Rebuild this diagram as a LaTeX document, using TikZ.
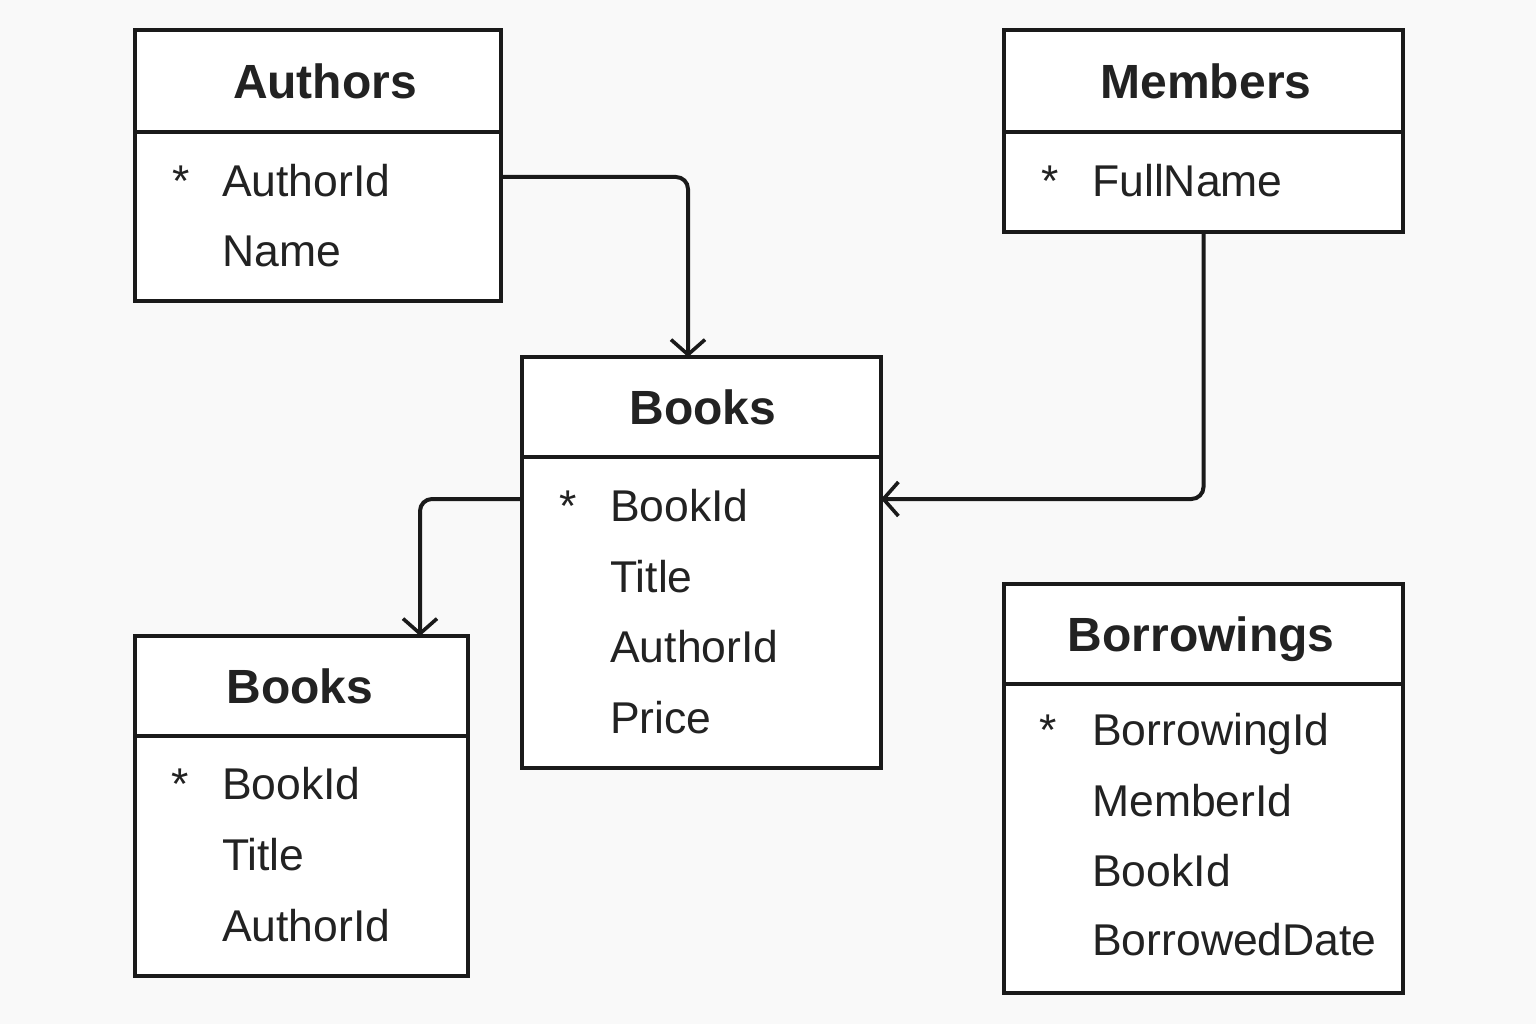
\documentclass[tikz,border=0pt]{standalone}
\usepackage{fontspec}
\setmainfont{Liberation Sans}
\usetikzlibrary{arrows.meta,calc}
\definecolor{ink}{HTML}{1A1A1A}
\definecolor{txt}{HTML}{222222}
\definecolor{bg}{HTML}{F9F9F9}
\begin{document}
\begin{tikzpicture}[x=1pt,y=-1pt,
  box/.style={draw=ink, line width=3.2pt, fill=white, anchor=north west, inner sep=0pt, outer sep=0pt},
  title/.style={font=\fontsize{48}{48}\selectfont\bfseries, text=txt, anchor=base, inner sep=0pt},
  field/.style={font=\fontsize{44.5}{44.5}\selectfont, text=txt, anchor=base west, inner sep=0pt},
  keymark/.style={font=\fontsize{44.5}{44.5}\selectfont, text=txt, anchor=base, inner sep=0pt},
  link/.style={draw=ink, line width=4pt, rounded corners=12pt, -{Straight Barb[length=15pt,width=34pt,line width=3.6pt]}}]
\fill[bg] (0,0) rectangle (1536,1024);
\useasboundingbox (0,0) rectangle (1536,1024);

% Authors
\node[box, minimum width=366pt, minimum height=102pt] (authH) at (135,30) {};
\node[box, minimum width=366pt, minimum height=169pt] (authB) at (135,132) {};
\node[title] (authT) at (325,99) {Authors};
\node[keymark] (authK) at (181,197) {*};
\node[field] (authF1) at (222,197) {AuthorId};
\node[field] (authF2) at (222,267) {Name};

% Members
\node[box, minimum width=399pt, minimum height=102pt] (memH) at (1004,30) {};
\node[box, minimum width=399pt, minimum height=100pt] (memB) at (1004,132) {};
\node[title] (memT) at (1206,99) {Members};
\node[keymark] (memK) at (1050,197) {*};
\node[field] (memF1) at (1092,197) {FullName};

% Books (middle)
\node[box, minimum width=359pt, minimum height=100pt] (bkH) at (522,357) {};
\node[box, minimum width=359pt, minimum height=311pt] (bkB) at (522,457) {};
\node[title] (bkT) at (703,424) {Books};
\node[keymark] (bkK) at (568,521) {*};
\node[field] (bkF1) at (610,521) {BookId};
\node[field] (bkF2) at (610,592) {Title};
\node[field] (bkF3) at (610,662) {AuthorId};
\node[field] (bkF4) at (610,733) {Price};

% Books (left)
\node[box, minimum width=333pt, minimum height=100pt] (bk2H) at (135,636) {};
\node[box, minimum width=333pt, minimum height=240pt] (bk2B) at (135,736) {};
\node[title] (bk2T) at (300,703) {Books};
\node[keymark] (bk2K) at (180,799) {*};
\node[field] (bk2F1) at (222,799) {BookId};
\node[field] (bk2F2) at (222,870) {Title};
\node[field] (bk2F3) at (222,941) {AuthorId};

% Borrowings
\node[box, minimum width=399pt, minimum height=100pt] (borH) at (1004,584) {};
\node[box, minimum width=399pt, minimum height=309pt] (borB) at (1004,684) {};
\node[title] (borT) at (1201,651) {Borrowings};
\node[keymark] (borK) at (1048,745) {*};
\node[field] (borF1) at (1092,745) {BorrowingId};
\node[field] (borF2) at (1092,816) {MemberId};
\node[field] (borF3) at (1092,886) {BookId};
\node[field] (borF4) at (1092,955) {BorrowedDate};

% Connectors
\draw[link] (authB.east |- 0,177) -| ($(bkH.north west)+(166,0)$);
\draw[link] (memB.south) |- (bkB.east |- 0,499);
\draw[link] (bkB.west |- 0,499) -| ($(bk2H.north east)+(-48,0)$);
\end{tikzpicture}
\end{document}
